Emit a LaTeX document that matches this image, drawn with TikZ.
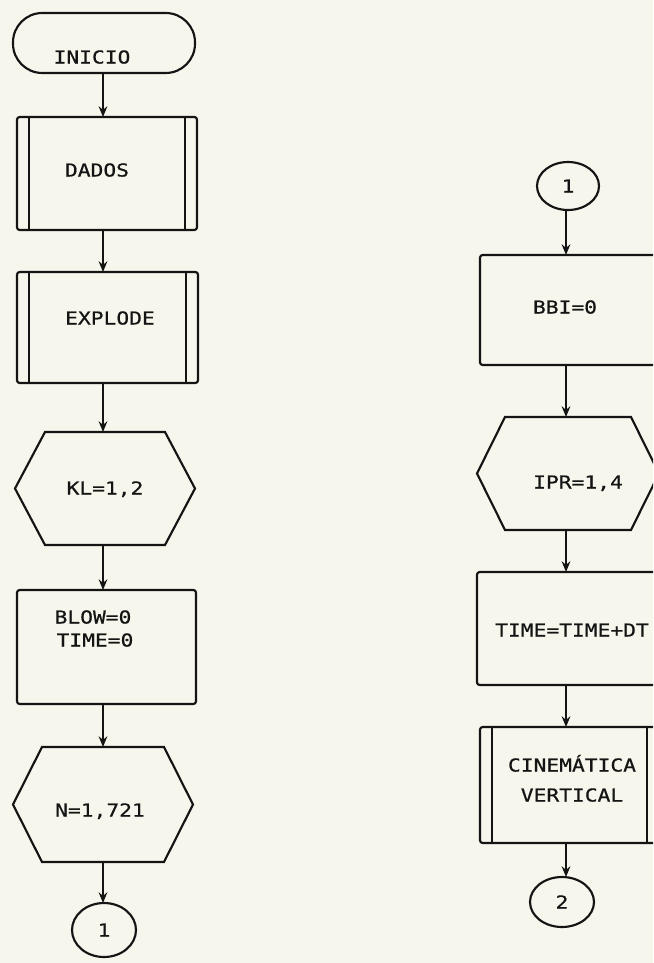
\documentclass[tikz,border=0pt]{standalone}
\usepackage{fontspec}
\newfontfamily\plotfont[FakeStretch=1.19,FakeBold=0.6]{DejaVu Sans Mono}
\usetikzlibrary{arrows.meta,shapes.geometric,calc}
\definecolor{paper}{RGB}{246,246,236}
\definecolor{ink}{RGB}{20,20,20}
\begin{document}
\begin{tikzpicture}[x=0.75pt,y=-0.75pt,
  ln/.style={draw=ink,line width=1.6pt},
  arr/.style={ln,-{Stealth[length=8pt,width=6.5pt]}},
  shp/.style={inner sep=0pt,outer sep=0pt},
  boxn/.style={shp,ln,rectangle,rounded corners=2pt},
  conn/.style={shp,ln,ellipse},
  txt/.style={font=\plotfont\fontsize{13.4}{17}\selectfont,text=ink,inner sep=0pt,text height=9.8pt,text depth=0pt}]
\useasboundingbox (0,0) rectangle (653,963);
\clip (0,0) rectangle (653,963);
\fill[paper] (0,0) rectangle (653,963);
\coordinate (colL) at (103,0);
\coordinate (colR) at (566,0);
% ---------- left column ----------
\node[shp,ln,rounded corners=22pt,minimum width=182*0.75pt,minimum height=60*0.75pt] (ini) at (104,43) {};
\node[txt] (tini) at (92,57) {INICIO};
\node[boxn,minimum width=180*0.75pt,minimum height=113*0.75pt] (dados) at (107,173.5) {};
\draw[ln] ([xshift=9pt]dados.north west) -- ([xshift=9pt]dados.south west);
\draw[ln] ([xshift=-9pt]dados.north east) -- ([xshift=-9pt]dados.south east);
\node[txt] (tdados) at (97,170) {DADOS};
\node[boxn,minimum width=181*0.75pt,minimum height=111*0.75pt] (expl) at (107.5,327.5) {};
\draw[ln] ([xshift=9pt]expl.north west) -- ([xshift=9pt]expl.south west);
\draw[ln] ([xshift=-9pt]expl.north east) -- ([xshift=-9pt]expl.south east);
\node[txt] (texpl) at (110,318) {EXPLODE};
\node[shp,minimum width=180*0.75pt,minimum height=113*0.75pt] (kl) at (105,488.5) {};
\draw[ln] (kl.west) -- ([xshift=22.5pt]kl.north west) -- ([xshift=-22.5pt]kl.north east) -- (kl.east) -- ([xshift=-22.5pt]kl.south east) -- ([xshift=22.5pt]kl.south west) -- cycle;
\node[txt] (tkl) at (105,488) {KL=1,2};
\node[boxn,minimum width=179*0.75pt,minimum height=114*0.75pt] (blow) at (106.5,647) {};
\node[txt] (tblow) at (93,617) {BLOW=0};
\node[txt] (ttime) at (95,640) {TIME=0};
\node[shp,minimum width=180*0.75pt,minimum height=115*0.75pt] (nh) at (103,804.5) {};
\draw[ln] (nh.west) -- ([xshift=21.75pt]nh.north west) -- ([xshift=-21.75pt]nh.north east) -- (nh.east) -- ([xshift=-21.75pt]nh.south east) -- ([xshift=21.75pt]nh.south west) -- cycle;
\node[txt] (tn) at (100,810) {N=1,721};
\node[conn,minimum width=64*0.75pt,minimum height=54*0.75pt] (c1) at (104,930) {};
\node[txt] (tc1) at (104,930) {1};
\draw[arr] (ini.south -| colL) -- (dados.north -| colL);
\draw[arr] (dados.south -| colL) -- (expl.north -| colL);
\draw[arr] (expl.south -| colL) -- (kl.north -| colL);
\draw[arr] (kl.south -| colL) -- (blow.north -| colL);
\draw[arr] (blow.south -| colL) -- (nh.north -| colL);
\draw[arr] (nh.south -| colL) -- (c1.north -| colL);
% ---------- right column ----------
\node[conn,minimum width=62*0.75pt,minimum height=48*0.75pt] (r1) at (568,186) {};
\node[txt] (tr1) at (568,186) {1};
\node[boxn,minimum width=176*0.75pt,minimum height=110*0.75pt] (bbi) at (568,310) {};
\node[txt] (tbbi) at (565,307) {BBI=0};
\node[shp,minimum width=182*0.75pt,minimum height=113*0.75pt] (ipr) at (568,473.5) {};
\draw[ln] (ipr.west) -- ([xshift=21pt]ipr.north west) -- ([xshift=-21pt]ipr.north east) -- (ipr.east) -- ([xshift=-21pt]ipr.south east) -- ([xshift=21pt]ipr.south west) -- cycle;
\node[txt] (tipr) at (578,482) {IPR=1,4};
\node[boxn,minimum width=182*0.75pt,minimum height=113*0.75pt] (tim) at (568,628.5) {};
\node[txt] (ttim) at (572,630) {TIME=TIME+DT};
\node[boxn,minimum width=179*0.75pt,minimum height=116*0.75pt] (cine) at (569.5,785) {};
\draw[ln] ([xshift=9pt]cine.north west) -- ([xshift=9pt]cine.south west);
\draw[ln] ([xshift=-9pt]cine.north east) -- ([xshift=-9pt]cine.south east);
\node[txt] (tcine1) at (572,765) {CINEMÁTICA};
\node[txt] (tcine2) at (572,795) {VERTICAL};
\node[conn,minimum width=64*0.75pt,minimum height=50*0.75pt] (r2) at (562,902) {};
\node[txt] (tr2) at (562,902) {2};
\draw[arr] (r1.south -| colR) -- (bbi.north -| colR);
\draw[arr] (bbi.south -| colR) -- (ipr.north -| colR);
\draw[arr] (ipr.south -| colR) -- (tim.north -| colR);
\draw[arr] (tim.south -| colR) -- (cine.north -| colR);
\draw[arr] (cine.south -| colR) -- (r2.north -| colR);
\end{tikzpicture}
\end{document}
